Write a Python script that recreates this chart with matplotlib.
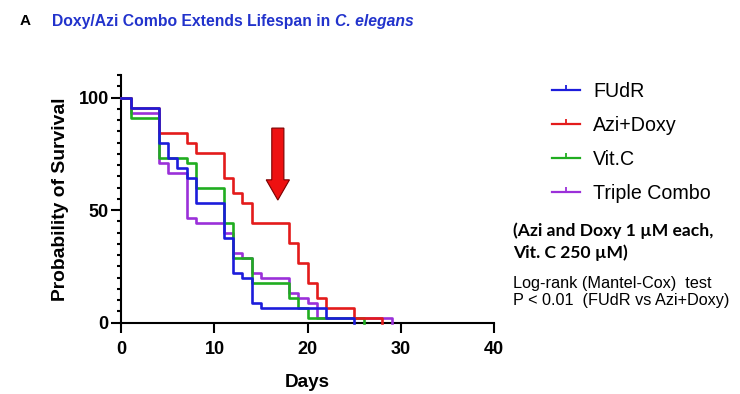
import matplotlib
matplotlib.use('Agg')
import matplotlib.pyplot as plt
from matplotlib.lines import Line2D
from matplotlib.path import Path
from matplotlib.patches import FancyArrow
from matplotlib.ticker import MultipleLocator, FixedLocator

plt.rcParams['font.family'] = ['Liberation Sans', 'DejaVu Sans']

# ---- data ----
series_names = ['FUdR', 'Azi+Doxy', 'Vit.C', 'Triple Combo']
fudr_days = [0, 1, 4, 5, 6, 7, 8, 11, 12, 13, 14, 15, 22, 25]
fudr_surv = [100, 95.5, 80, 73.3, 68.9, 64.4, 53.3, 37.8, 22.2, 20, 8.9, 6.7, 2.2, 0]
azi_days = [0, 1, 4, 7, 8, 11, 12, 13, 14, 18, 19, 20, 21, 22, 25, 28]
azi_surv = [100, 95.5, 84.4, 80, 75.6, 64.4, 57.8, 53.3, 44.4, 35.6, 26.7, 17.8, 11.1, 6.7, 2.2, 0]
vitc_days = [0, 1, 4, 7, 8, 11, 12, 14, 18, 19, 20, 26]
vitc_surv = [100, 91.1, 73.3, 71.1, 60, 44.4, 28.9, 17.8, 11.1, 6.7, 2.2, 0]
triple_days = [0, 1, 4, 5, 7, 8, 11, 12, 13, 14, 15, 18, 19, 20, 21, 29]
triple_surv = [100, 93.3, 71.1, 66.7, 46.7, 44.4, 40, 31.1, 28.9, 22.2, 20, 13.3, 11.1, 8.9, 2.2, 0]
x_ticks = [0, 10, 20, 30, 40]
y_ticks = [0, 50, 100]

colors = ['#1c1cdb', '#e31b1b', '#20ad20', '#9b30d9']
all_days = [fudr_days, azi_days, vitc_days, triple_days]
all_surv = [fudr_surv, azi_surv, vitc_surv, triple_surv]
zorders = [6, 5, 4, 3]

fig = plt.figure(figsize=(7.4, 3.94), dpi=100)
ax = fig.add_axes([121.3 / 740, 1 - 322.7 / 394, (494 - 121.3) / 740, (322.7 - 75.2) / 394])

for d, s, c, z in zip(all_days, all_surv, colors, zorders):
    ax.step(d, s, where='post', color=c, lw=1.9, zorder=z, clip_on=False)

ax.set_xlim(0, 40)
ax.set_ylim(0, 110)
ax.xaxis.set_major_locator(FixedLocator(x_ticks))
ax.yaxis.set_major_locator(FixedLocator(y_ticks))
ax.yaxis.set_minor_locator(MultipleLocator(5))
for sp in ['top', 'right']:
    ax.spines[sp].set_visible(False)
for sp in ['left', 'bottom']:
    ax.spines[sp].set_linewidth(1.5)
    ax.spines[sp].set_zorder(2)
ax.tick_params(axis='both', which='major', direction='out', length=7, width=1.5,
               labelsize=13)
ax.tick_params(axis='x', which='major', pad=6.5)
ax.tick_params(axis='y', which='major', pad=2)
ax.tick_params(axis='y', which='minor', direction='out', length=3.2, width=1.5)
for lab in ax.get_xticklabels() + ax.get_yticklabels():
    lab.set_fontweight('bold')
ax.set_xlabel('Days', fontsize=13.6, fontweight='bold', labelpad=11)
ax.set_ylabel('Probability of Survival', fontsize=13.9, fontweight='bold', labelpad=7)

# red arrow annotation
ax.add_patch(FancyArrow(16.8, 86.5, 0, -23.0, width=1.3, head_width=2.5, head_length=9.0,
                        length_includes_head=False, facecolor='#ee1111', edgecolor='#7a0000',
                        lw=0.8, zorder=7))

# legend
tick_marker = Path([(0, 0), (0, 1)])
handles = [Line2D([], [], color=c, lw=1.6, marker=tick_marker, markersize=7,
                  markeredgewidth=1.3, markeredgecolor=c) for c in colors]
fig.legend(handles, series_names, loc='upper left', bbox_to_anchor=(552 / 740, 1 - 82 / 394),
           frameon=False, fontsize=14.1, handlelength=1.45, handletextpad=0.65,
           labelspacing=0.76, borderpad=0, borderaxespad=0)

fig.text(513 / 740, 1 - 222 / 394, '(Azi and Doxy 1 µM each,\nVit. C 250 µM)',
         family=['Lato', 'DejaVu Sans'], fontweight='bold', fontsize=12.6, va='top',
         linespacing=1.42)
fig.text(513 / 740, 1 - 276 / 394, 'Log-rank (Mantel-Cox)  test\nP < 0.01  (FUdR vs Azi+Doxy)',
         fontsize=11.7, va='top', linespacing=1.2)

# title
fig.text(20 / 740, 1 - 25 / 394, 'A', fontsize=11, fontweight='bold', color='black', va='baseline')
t1 = fig.text(52 / 740, 1 - 26 / 394, 'Doxy/Azi Combo Extends Lifespan in ', fontsize=11.3,
              fontweight='bold', color='#2233cc', va='baseline')
fig.canvas.draw()
bb = t1.get_window_extent(renderer=fig.canvas.get_renderer())
fig.text(bb.x1 / fig.bbox.width, 1 - 26 / 394, 'C. elegans', fontsize=11.3, fontweight='bold',
         fontstyle='italic', color='#2233cc', va='baseline')

fig.savefig('out.png', dpi=100)
